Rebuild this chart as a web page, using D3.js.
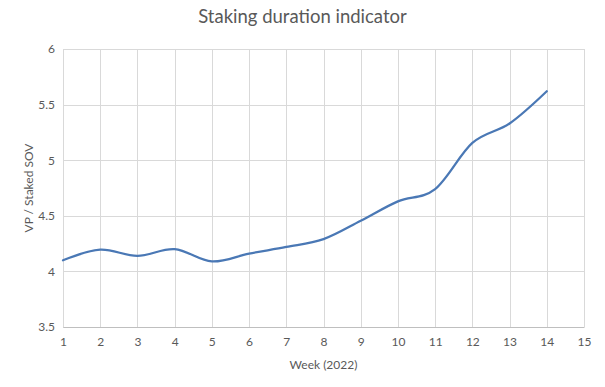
<!DOCTYPE html>
<html>
<head>
<meta charset="utf-8">
<script src="https://cdn.jsdelivr.net/npm/d3@7"></script>
<style>
  body { margin: 0; background: #fff; }
  text { font-family: Lato, "Open Sans", sans-serif; fill: #595959; }
</style>
</head>
<body>
<script>
const weeks = [1, 2, 3, 4, 5, 6, 7, 8, 9, 10, 11, 12, 13, 14];
const ratio = [4.1, 4.195, 4.14, 4.2, 4.09, 4.16, 4.22, 4.29, 4.455, 4.63, 4.74, 5.155, 5.33, 5.62];
const xTicks = [1, 2, 3, 4, 5, 6, 7, 8, 9, 10, 11, 12, 13, 14, 15];
const yTicks = [3.5, 4, 4.5, 5, 5.5, 6];

const baseWidth = 605, baseHeight = 387;
const margin = { top: 49, right: 21, bottom: 60, left: 63 };
const width = baseWidth - margin.left - margin.right;
const height = baseHeight - margin.top - margin.bottom;

const x = d3.scaleLinear().domain([1, 15]).range([0, width]);
const y = d3.scaleLinear().domain([3.5, 6]).range([height, 0]);

const svg = d3.select("body").append("svg")
  .attr("width", baseWidth)
  .attr("height", baseHeight);

svg.append("text")
  .attr("x", baseWidth / 2)
  .attr("y", 23)
  .attr("text-anchor", "middle")
  .style("font-size", "18.5px")
  .text("Staking duration indicator");

const chart = svg.append("g")
  .attr("transform", "translate(" + margin.left + "," + margin.top + ")");

// gridlines
chart.append("g")
  .selectAll("line")
  .data(yTicks)
  .join("line")
  .attr("x1", 0).attr("x2", width)
  .attr("y1", d => Math.round(y(d)) + 0.5).attr("y2", d => Math.round(y(d)) + 0.5)
  .attr("stroke", "#d9d9d9");

chart.append("g")
  .selectAll("line")
  .data(xTicks)
  .join("line")
  .attr("x1", d => Math.round(x(d)) + 0.5).attr("x2", d => Math.round(x(d)) + 0.5)
  .attr("y1", 0).attr("y2", height)
  .attr("stroke", "#d9d9d9");

// x axis
const xAxis = chart.append("g")
  .attr("transform", "translate(0," + height + ")")
  .call(d3.axisBottom(x).tickValues(xTicks).tickSize(0).tickPadding(10).tickFormat(d3.format("d")));
xAxis.select(".domain").attr("stroke", "#bfbfbf");
xAxis.selectAll("text").style("font-size", "12px").attr("fill", "#595959");

// y axis
const yAxis = chart.append("g")
  .call(d3.axisLeft(y).tickValues(yTicks).tickSize(0).tickPadding(8).tickFormat(d => d));
yAxis.select(".domain").remove();
yAxis.selectAll("text").style("font-size", "12px").attr("fill", "#595959");

// axis titles
chart.append("text")
  .attr("x", width / 2)
  .attr("y", height + 42)
  .attr("text-anchor", "middle")
  .style("font-size", "12px")
  .text("Week (2022)");

chart.append("text")
  .attr("transform", "translate(" + (-30) + "," + height / 2 + ") rotate(-90)")
  .attr("text-anchor", "middle")
  .style("font-size", "12px")
  .text("VP / Staked SOV");

// line
const line = d3.line()
  .x((d, i) => x(weeks[i]))
  .y(d => y(d))
  .curve(d3.curveCatmullRom.alpha(0));

chart.append("path")
  .datum(ratio)
  .attr("d", line)
  .attr("fill", "none")
  .attr("stroke", "#4a78b5")
  .attr("stroke-width", 2.25)
  .attr("stroke-linecap", "round");
</script>
</body>
</html>
